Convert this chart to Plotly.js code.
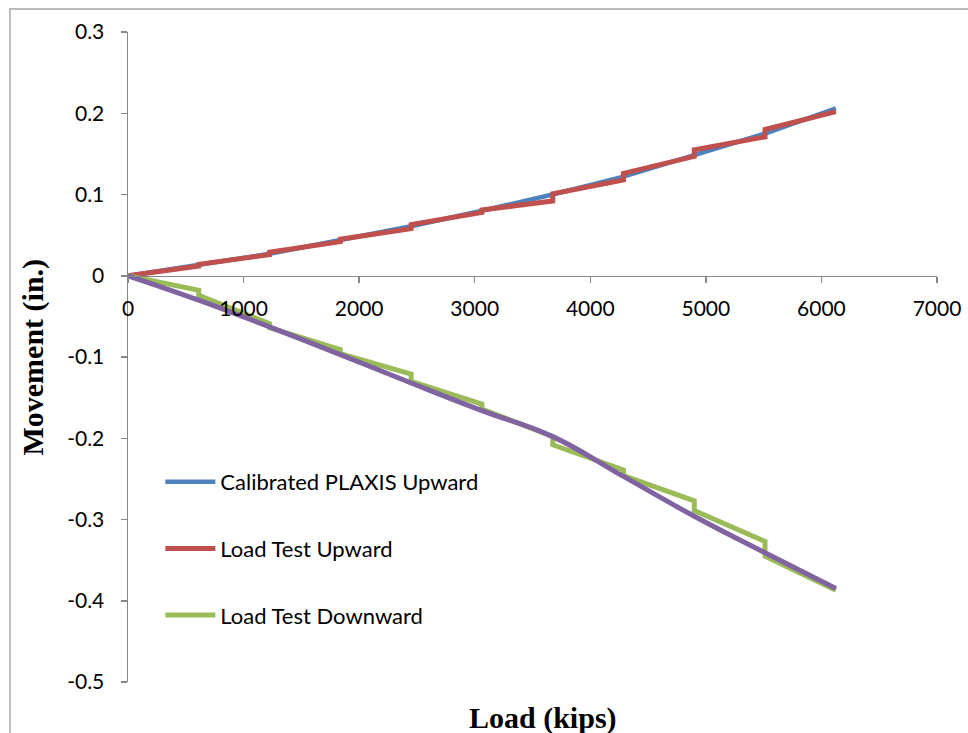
<!DOCTYPE html>
<html>
<head>
<meta charset="utf-8">
<script src="https://cdn.plot.ly/plotly-3.0.1.min.js"></script>
<style>html,body{margin:0;padding:0;background:#fff;}#chart{width:968px;height:733px;}</style>
</head>
<body>
<div id="chart"></div>
<script>
// Calibrated PLAXIS Upward
const plaxisUpLoad = [0, 612, 1225, 1837, 2450, 3062, 3675, 4287, 4900, 5512, 6125];
const plaxisUpMove = [0, 0.013, 0.027, 0.044, 0.061, 0.080, 0.100, 0.122, 0.148, 0.175, 0.206];
// Load Test Upward (two readings at each load step)
const testUpLoad = [0, 612, 612, 1225, 1225, 1837, 1837, 2450, 2450, 3062, 3062, 3675, 3675, 4287, 4287, 4900, 4900, 5512, 5512, 6125];
const testUpMove = [0, 0.012, 0.014, 0.026, 0.029, 0.042, 0.045, 0.058, 0.063, 0.078, 0.081, 0.092, 0.101, 0.118, 0.126, 0.147, 0.155, 0.171, 0.180, 0.202];
// Load Test Downward
const testDownLoad = [0, 612, 612, 1225, 1225, 1837, 1837, 2450, 2450, 3062, 3062, 3675, 3675, 4287, 4287, 4900, 4900, 5512, 5512, 6125];
const testDownMove = [0, -0.018, -0.024, -0.059, -0.064, -0.091, -0.096, -0.121, -0.130, -0.158, -0.164, -0.198, -0.208, -0.239, -0.246, -0.277, -0.289, -0.327, -0.345, -0.387];
// Calibrated PLAXIS Downward
const plaxisDownLoad = [0, 612, 1225, 1837, 2450, 3062, 3675, 4287, 4900, 5512, 6125];
const plaxisDownMove = [0, -0.030, -0.063, -0.097, -0.132, -0.166, -0.198, -0.247, -0.296, -0.341, -0.385];

const xTicks = [0, 1000, 2000, 3000, 4000, 5000, 6000, 7000];
const yTicks = [-0.5, -0.4, -0.3, -0.2, -0.1, 0, 0.1, 0.2, 0.3];

const traces = [
  {x: plaxisUpLoad, y: plaxisUpMove, mode: 'lines', name: 'Calibrated PLAXIS Upward', legendgroup: 'a',
   line: {color: '#4F81BD', width: 4.5}},
  {x: testUpLoad, y: testUpMove, mode: 'lines', name: 'Load Test Upward', legendgroup: 'b',
   line: {color: '#C0504D', width: 5}},
  {x: testDownLoad, y: testDownMove, mode: 'lines', name: 'Load Test Downward', legendgroup: 'c',
   line: {color: '#9BBB59', width: 5}},
  {x: plaxisDownLoad, y: plaxisDownMove, mode: 'lines', name: 'Calibrated PLAXIS Downward', legendgroup: 'd',
   showlegend: false, line: {color: '#8064A2', width: 5, shape: 'spline', smoothing: 1.2}}
];

const tickFont = {family: 'Lato, "Noto Sans", sans-serif', size: 21, color: '#000'};

const layout = {
  width: 968, height: 733,
  margin: {l: 128, r: 31, t: 32, b: 51},
  paper_bgcolor: '#fff', plot_bgcolor: '#fff',
  showlegend: true,
  xaxis: {
    range: [0, 7000], tickvals: xTicks, ticktext: xTicks.map(String),
    showgrid: false, zeroline: false, showline: true, linecolor: '#868686', linewidth: 1.5,
    ticks: 'outside', ticklen: 6, tickcolor: '#868686', tickwidth: 1.5,
    anchor: 'free', position: 0.625, tickfont: tickFont, ticklabelstandoff: 8
  },
  yaxis: {
    range: [-0.5, 0.3], tickvals: yTicks, ticktext: yTicks.map(v => String(Math.round(v*10)/10)),
    showgrid: false, zeroline: false, showline: true, linecolor: '#868686', linewidth: 1.5,
    ticks: 'outside', ticklen: 6, tickcolor: '#868686', tickwidth: 1.5,
    tickfont: tickFont, ticklabelstandoff: 12
  },
  legend: {
    x: 0.04, y: 0.34, xanchor: 'left', yanchor: 'top',
    traceorder: 'grouped', tracegroupgap: 35, itemwidth: 50,
    font: {family: 'Lato, "Noto Sans", sans-serif', size: 22, color: '#000'},
    bgcolor: 'rgba(0,0,0,0)'
  },
  annotations: [
    {text: 'Load (kips)', xref: 'paper', yref: 'paper', x: 0.513, y: -0.055, xanchor: 'center', yanchor: 'middle',
     showarrow: false, font: {family: '"Liberation Serif", "Times New Roman", serif', size: 30, color: '#000', weight: 'bold'}},
    {text: 'Movement (in.)', xref: 'paper', yref: 'paper', x: -0.118, y: 0.5, xanchor: 'center', yanchor: 'middle',
     textangle: -90, showarrow: false, font: {family: '"Liberation Serif", "Times New Roman", serif', size: 30, color: '#000', weight: 'bold'}}
  ],
  shapes: [
    {type: 'path', xref: 'paper', yref: 'paper',
     path: 'M -0.1459 -0.1 L -0.1459 1.0354 L 1.06 1.0354',
     line: {color: '#A6A6A6', width: 1.5}}
  ]
};

Plotly.newPlot('chart', traces, layout, {displayModeBar: false, staticPlot: true});
</script>
</body>
</html>
